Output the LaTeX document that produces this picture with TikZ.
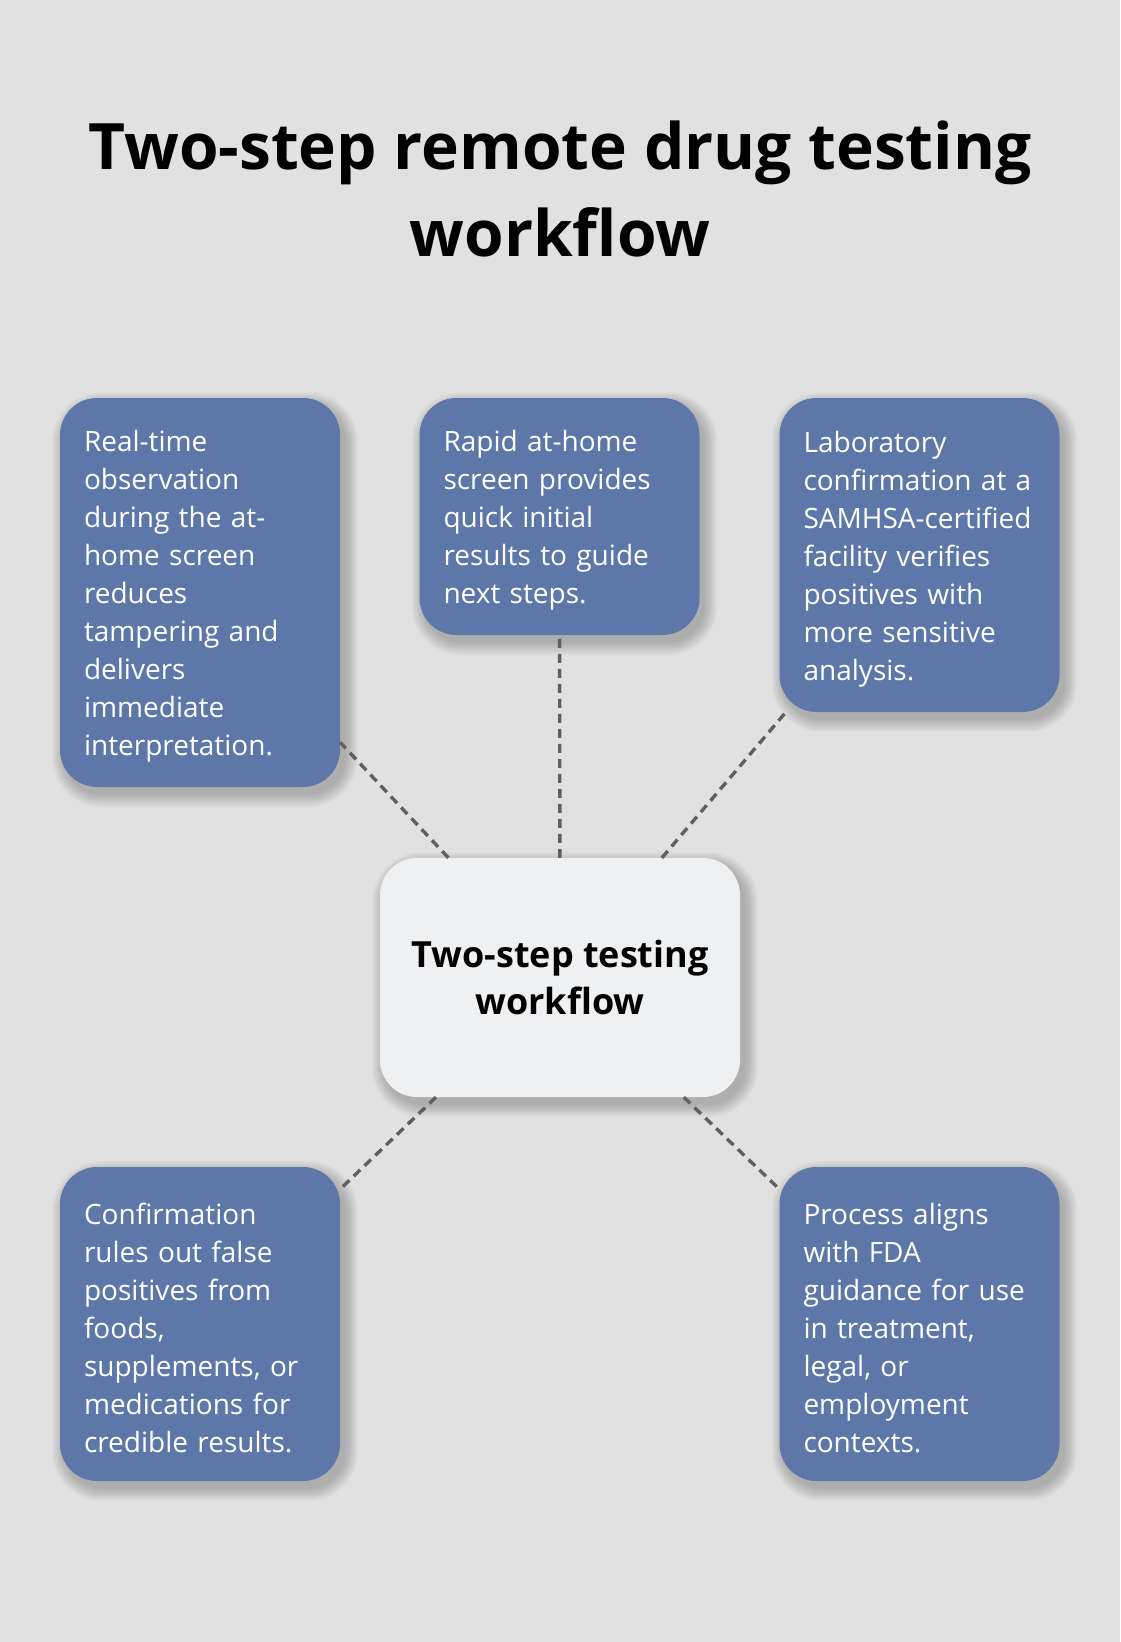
\documentclass[tikz,border=0pt]{standalone}
\usepackage{fontspec}
\setmainfont{Open Sans}
\usetikzlibrary{calc}
\definecolor{bg}{HTML}{E0E1E0}
\definecolor{boxblue}{HTML}{5D77A8}
\definecolor{centerfill}{HTML}{EFF0F2}
\definecolor{linegray}{HTML}{606060}
\pgfdeclarelayer{backdrop}
\pgfdeclarelayer{shade}
\pgfsetlayers{backdrop,shade,main}
\newcommand\softshadow[1]{%
  \begin{pgfonlayer}{shade}
  \foreach \i in {0,...,13}{%
    \pgfmathsetmacro\rr{37+\i}%
    \fill[black, opacity=0.016, rounded corners=\rr pt]
      ($(#1.north west)+(5-\i,7-\i)$) rectangle ($(#1.south east)+(5+\i,7+\i)$);
  }
  \end{pgfonlayer}}
\newcommand\topstrut{\rule{0pt}{29pt}}
\begin{document}
\begin{tikzpicture}[x=1pt,y=-1pt,
  infobox/.style={fill=boxblue, rounded corners=37pt, minimum width=280pt,
    text width=232pt, align=left, text=white, inner sep=0pt,
    font=\fontsize{28}{38}\selectfont},
  hubbox/.style={fill=centerfill, rounded corners=37pt, minimum width=360pt, minimum height=239pt,
    align=center, inner sep=0pt, font=\bfseries\fontsize{36}{47}\selectfont},
  conn/.style={draw=linegray, line width=3.4pt, dash pattern=on 9pt off 6pt}]
\begin{pgfonlayer}{backdrop}
\fill[bg] (0,0) rectangle (1120,1642);
\end{pgfonlayer}
\useasboundingbox (0,0) rectangle (1120,1642);
\node[font=\bfseries\fontsize{64}{87}\selectfont, align=center, anchor=north, inner sep=0pt] (title) at (560,121)
  {Two-step remote drug testing\\workflow};
\node[infobox, minimum height=389pt] (b1) at (200,592.5)
  {\topstrut Real-time\\observation\\during the at-\\home screen\\reduces\\tampering and\\delivers\\immediate\\interpretation.};
\node[infobox, minimum height=237pt] (b2) at (559.5,516.5)
  {\topstrut Rapid at-home\\screen provides\\quick initial\\results to guide\\next steps.};
\node[infobox, minimum height=314pt] (b3) at (919.5,555)
  {\topstrut Laboratory\\confirmation at a\\SAMHSA-certified\\facility verifies\\positives with\\more sensitive\\analysis.};
\node[hubbox] (hub) at (560,977.5) {Two-step testing\\workflow};
\node[infobox, minimum height=314pt] (b4) at (200,1324)
  {\topstrut Confirmation\\rules out false\\positives from\\foods,\\supplements, or\\medications for\\credible results.};
\node[infobox, minimum height=314pt] (b5) at (919.5,1324)
  {\topstrut Process aligns\\with FDA\\guidance for use\\in treatment,\\legal, or\\employment\\contexts.};
\foreach \n in {b1,b2,b3,hub,b4,b5}{\softshadow{\n}}
\draw[conn] (hub) -- (b1);
\draw[conn] (hub) -- (b2);
\draw[conn] (hub) -- (b3);
\draw[conn] (hub) -- (b4);
\draw[conn] (hub) -- (b5);
\end{tikzpicture}
\end{document}
